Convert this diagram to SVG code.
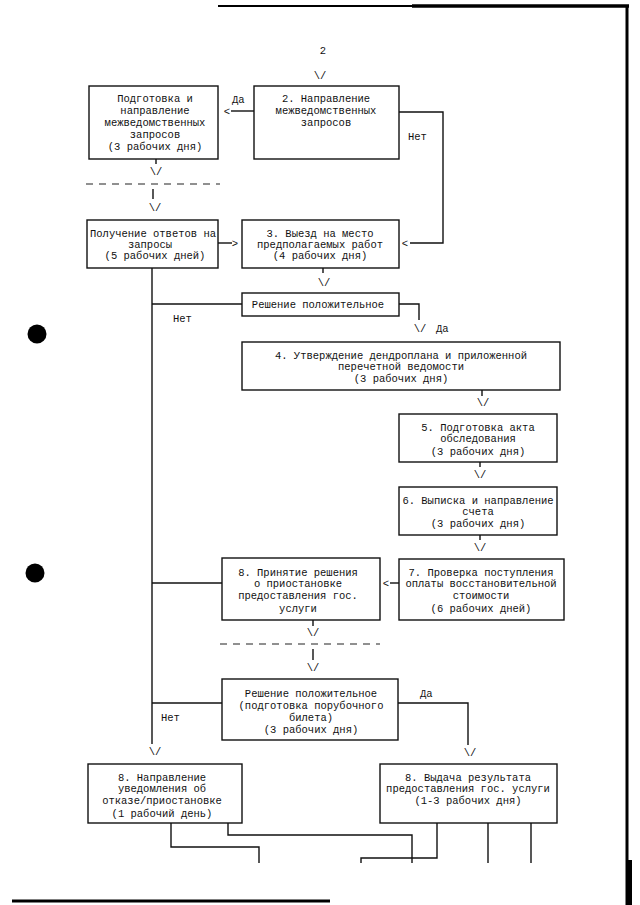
<svg xmlns="http://www.w3.org/2000/svg" width="640" height="905" viewBox="0 0 640 905">
<style>
text{font-family:"Liberation Mono","DejaVu Sans Mono",monospace;font-size:10.5px;fill:#111;text-anchor:middle}
.l{text-anchor:start}
.box{fill:#fff;stroke:#111;stroke-width:1.4}
.c{fill:none;stroke:#111;stroke-width:1.4}
.d{fill:none;stroke:#222;stroke-width:1.2;stroke-dasharray:7 6}
.frame{fill:none;stroke:#000}
</style>
<rect width="640" height="905" fill="#fff"/>
<g id="page">
<line class="frame" x1="218" y1="6" x2="412" y2="6" stroke-width="2"/>
<line class="frame" x1="412" y1="6" x2="629" y2="6" stroke-width="3.5"/>
<line class="frame" x1="627" y1="5" x2="627" y2="905" stroke-width="3"/>
<rect x="626" y="860" width="6" height="45" fill="#000"/>
<line class="frame" x1="12" y1="901" x2="330" y2="901" stroke-width="3"/>
<circle cx="37" cy="334" r="9.5" fill="#000"/>
<circle cx="35" cy="573" r="9.5" fill="#000"/>
<text x="323" y="54">2</text>
</g>
<g id="connectors">
<text x="320" y="79">\/</text>
<line class="c" x1="231" y1="111" x2="254" y2="111"/>
<text x="227" y="115">&lt;</text>
<text class="l" x="232" y="103">Да</text>
<polyline class="c" points="399,112 443,112 443,243 410,243"/>
<text x="405" y="247">&lt;</text>
<text class="l" x="408" y="140">Нет</text>
<line class="c" x1="156" y1="159" x2="156" y2="164"/>
<text x="156" y="175">\/</text>
<line class="d" x1="86" y1="184" x2="220" y2="184"/>
<line class="c" x1="153" y1="189" x2="153" y2="199"/>
<text x="155" y="211">\/</text>
<line class="c" x1="218" y1="243" x2="232" y2="243"/>
<text x="235" y="247">&gt;</text>
<line class="c" x1="323" y1="268" x2="323" y2="273"/>
<text x="324" y="286">\/</text>
<line class="c" x1="152" y1="268" x2="152" y2="744"/>
<line class="c" x1="152" y1="304" x2="242" y2="304"/>
<text class="l" x="173" y="322">Нет</text>
<polyline class="c" points="399,304 419,304 419,320"/>
<text x="420" y="332">\/</text>
<text class="l" x="436" y="332">Да</text>
<line class="c" x1="482" y1="390" x2="482" y2="396"/>
<text x="483" y="406">\/</text>
<line class="c" x1="480" y1="462" x2="480" y2="467"/>
<text x="480" y="478">\/</text>
<line class="c" x1="480" y1="535" x2="480" y2="540"/>
<text x="480" y="551">\/</text>
<line class="c" x1="390" y1="583" x2="399" y2="583"/>
<text x="386" y="587">&lt;</text>
<line class="c" x1="152" y1="583" x2="222" y2="583"/>
<line class="c" x1="313" y1="620" x2="313" y2="626"/>
<text x="313" y="636">\/</text>
<line class="d" x1="220" y1="644" x2="380" y2="644"/>
<line class="c" x1="313" y1="649" x2="313" y2="660"/>
<text x="313" y="671">\/</text>
<line class="c" x1="152" y1="703" x2="222" y2="703"/>
<text class="l" x="161" y="721">Нет</text>
<polyline class="c" points="398,703 468,703 468,745"/>
<text class="l" x="420" y="697">Да</text>
<text x="470" y="756">\/</text>
<text x="155" y="755">\/</text>
<polyline class="c" points="171,823 171,847 259,847 259,863"/>
<polyline class="c" points="228,823 228,835 412,835 412,863"/>
<polyline class="c" points="437,823 437,858 361,858 361,863"/>
<line class="c" x1="488" y1="823" x2="488" y2="863"/>
<line class="c" x1="531" y1="823" x2="531" y2="863"/>
</g>
<g id="n_prep">
<rect class="box" x="89" y="86" width="129" height="73"/>
<text x="155" y="102">Подготовка и</text>
<text x="155" y="114">направление</text>
<text x="155" y="126">межведомственных</text>
<text x="155" y="138">запросов</text>
<text x="155" y="150">(3 рабочих дня)</text>
</g>
<g id="n2">
<rect class="box" x="254" y="86" width="145" height="73"/>
<text x="326" y="102">2. Направление</text>
<text x="326" y="114">межведомственных</text>
<text x="326" y="126">запросов</text>
</g>
<g id="n_answers">
<rect class="box" x="87" y="220" width="131" height="48"/>
<text x="153" y="237">Получение ответов на</text>
<text x="150" y="248">запросы</text>
<text x="155" y="259">(5 рабочих дней)</text>
</g>
<g id="n3">
<rect class="box" x="242" y="220" width="157" height="48"/>
<text x="320" y="237">3. Выезд на место</text>
<text x="320" y="248">предполагаемых работ</text>
<text x="320" y="259">(4 рабочих дня)</text>
</g>
<g id="d1">
<rect class="box" x="242" y="293" width="157" height="23"/>
<text x="318" y="308">Решение положительное</text>
</g>
<g id="n4">
<rect class="box" x="242" y="342" width="318" height="48"/>
<text x="401" y="359">4. Утверждение дендроплана и приложенной</text>
<text x="401" y="370">перечетной ведомости</text>
<text x="401" y="382">(3 рабочих дня)</text>
</g>
<g id="n5">
<rect class="box" x="399" y="414" width="158" height="48"/>
<text x="478" y="431">5. Подготовка акта</text>
<text x="478" y="442">обследования</text>
<text x="478" y="455">(3 рабочих дня)</text>
</g>
<g id="n6">
<rect class="box" x="399" y="487" width="158" height="48"/>
<text x="478" y="504">6. Выписка и направление</text>
<text x="478" y="515">счета</text>
<text x="478" y="527">(3 рабочих дня)</text>
</g>
<g id="n7">
<rect class="box" x="399" y="559" width="165" height="61"/>
<text x="481" y="576">7. Проверка поступления</text>
<text x="481" y="587">оплаты восстановительной</text>
<text x="481" y="599">стоимости</text>
<text x="481" y="612">(6 рабочих дней)</text>
</g>
<g id="n8a">
<rect class="box" x="222" y="558" width="158" height="62"/>
<text x="298" y="576">8. Принятие решения</text>
<text x="298" y="587">о приостановке</text>
<text x="298" y="599">предоставления гос.</text>
<text x="298" y="612">услуги</text>
</g>
<g id="d2">
<rect class="box" x="222" y="679" width="176" height="61"/>
<text x="311" y="697">Решение положительное</text>
<text x="311" y="709">(подготовка порубочного</text>
<text x="311" y="721">билета)</text>
<text x="311" y="733">(3 рабочих дня)</text>
</g>
<g id="n8b">
<rect class="box" x="88" y="764" width="154" height="59"/>
<text x="162" y="781">8. Направление</text>
<text x="162" y="792">уведомления об</text>
<text x="162" y="804">отказе/приостановке</text>
<text x="162" y="817">(1 рабочий день)</text>
</g>
<g id="n8c">
<rect class="box" x="380" y="764" width="177" height="59"/>
<text x="468" y="781">8. Выдача результата</text>
<text x="468" y="792">предоставления гос. услуги</text>
<text x="468" y="804">(1-3 рабочих дня)</text>
</g>
</svg>
